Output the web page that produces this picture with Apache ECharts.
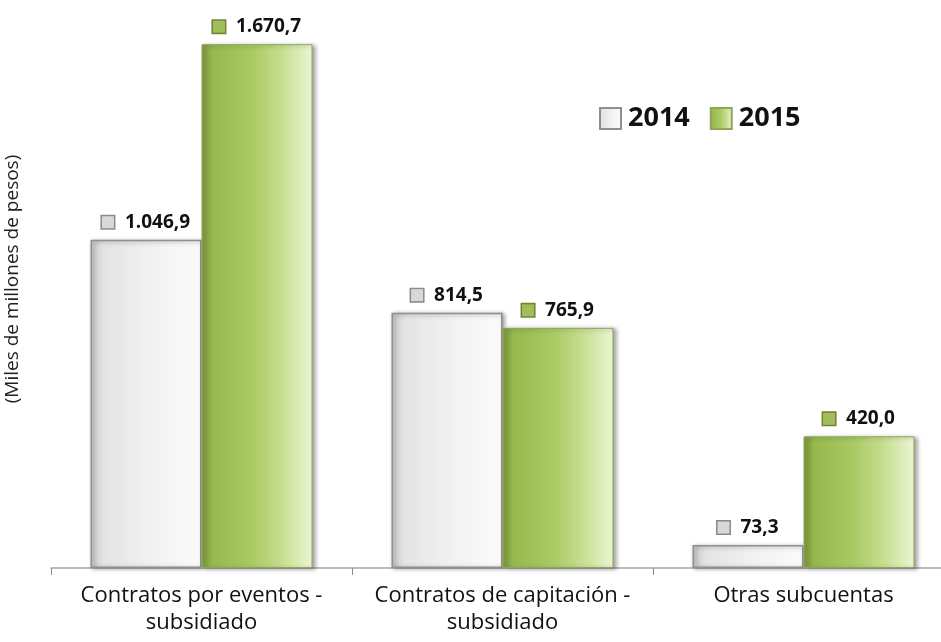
<!DOCTYPE html>
<html>
<head>
<meta charset="utf-8">
<script src="https://cdn.jsdelivr.net/npm/echarts@6/dist/echarts.min.js"></script>
<style>
  html, body { margin: 0; padding: 0; background: #fff; }
  #chart { width: 941px; height: 642px; }
</style>
</head>
<body>
<div id="chart"></div>
<script>
// Recursos por subcuenta (miles de millones de pesos)
const categories = ['Contratos por eventos -\nsubsidiado', 'Contratos de capitación -\nsubsidiado', 'Otras subcuentas'];
const seriesNames = ['2014', '2015'];
const values2014 = [1046.9, 814.5, 73.3];
const values2015 = [1670.7, 765.9, 420.0];
const axisName = '(Miles de millones de pesos)';

const FONT = 'Open Sans';

// Spanish number format: dot for thousands, comma for decimals
function fmt(v) {
  const parts = v.toFixed(1).split('.');
  const intPart = parts[0].replace(/\B(?=(\d{3})+(?!\d))/g, '.');
  return intPart + ',' + parts[1];
}

const greyFill = new echarts.graphic.LinearGradient(0, 0, 1, 0, [
  { offset: 0, color: '#c9c9c9' },
  { offset: 0.12, color: '#e4e4e4' },
  { offset: 0.6, color: '#f3f3f3' },
  { offset: 1, color: '#fbfbfb' }
]);
const greenFill = new echarts.graphic.LinearGradient(0, 0, 1, 0, [
  { offset: 0, color: '#7d9b3b' },
  { offset: 0.1, color: '#97b84e' },
  { offset: 0.45, color: '#a9c963' },
  { offset: 0.72, color: '#c6de90' },
  { offset: 1, color: '#ecf6d4' }
]);

function labelFor(iconStyle) {
  return {
    show: true,
    position: 'top',
    distance: 8,
    formatter: p => '{i|}{v|' + fmt(p.value) + '}',
    rich: {
      i: iconStyle,
      v: { fontFamily: FONT, fontWeight: 'bold', fontSize: 19, color: '#111', padding: [0, 0, 0, 11] }
    }
  };
}

const chart = echarts.init(document.getElementById('chart'), null, { renderer: 'canvas' });
chart.setOption({
  animation: false,
  backgroundColor: '#ffffff',
  grid: { left: 51, top: 35, width: 903, height: 533, containLabel: false, outerBoundsMode: 'none' },
  legend: {
    data: seriesNames,
    left: 599,
    top: 105,
    padding: 0,
    itemWidth: 21,
    itemHeight: 21,
    itemGap: 20,
    icon: 'rect',
    textStyle: { fontFamily: FONT, fontWeight: 'bold', fontSize: 27, color: '#111', padding: [0, 0, 0, 2] }
  },
  xAxis: {
    type: 'category',
    data: categories,
    axisLine: { lineStyle: { color: '#a6a6a6', width: 1.5 } },
    axisTick: { show: true, interval: 0, length: 7, lineStyle: { color: '#8c8c8c' } },
    axisLabel: { interval: 0, hideOverlap: false, fontFamily: FONT, fontSize: 22, color: '#111', margin: 14, lineHeight: 27 }
  },
  yAxis: {
    type: 'value',
    min: 0,
    max: 1700,
    show: false
  },
  graphic: [{
    type: 'text',
    x: 13,
    y: 279,
    rotation: Math.PI / 2,
    style: {
      text: axisName,
      fontFamily: FONT,
      fontSize: 19,
      fill: '#222',
      textAlign: 'center',
      textVerticalAlign: 'middle'
    }
  }],
  series: [
    {
      name: seriesNames[0],
      type: 'bar',
      data: values2014,
      barWidth: 111,
      barGap: '0%',
      itemStyle: {
        color: greyFill,
        borderColor: '#8f8f8f',
        borderWidth: 1.5,
        shadowColor: 'rgba(0,0,0,0.35)',
        shadowBlur: 4,
        shadowOffsetX: 2,
        shadowOffsetY: 1
      },
      label: labelFor({ width: 12, height: 12, backgroundColor: '#d8d8d8', borderColor: '#8a8a8a', borderWidth: 1.5 })
    },
    {
      name: seriesNames[1],
      type: 'bar',
      data: values2015,
      barWidth: 111,
      itemStyle: {
        color: greenFill,
        borderColor: '#8fa65a',
        borderWidth: 1,
        shadowColor: 'rgba(0,0,0,0.35)',
        shadowBlur: 4,
        shadowOffsetX: 3,
        shadowOffsetY: 1
      },
      label: labelFor({ width: 12, height: 12, backgroundColor: '#a3bd5b', borderColor: '#6f8436', borderWidth: 1.5 })
    }
  ]
});
</script>
</body>
</html>
